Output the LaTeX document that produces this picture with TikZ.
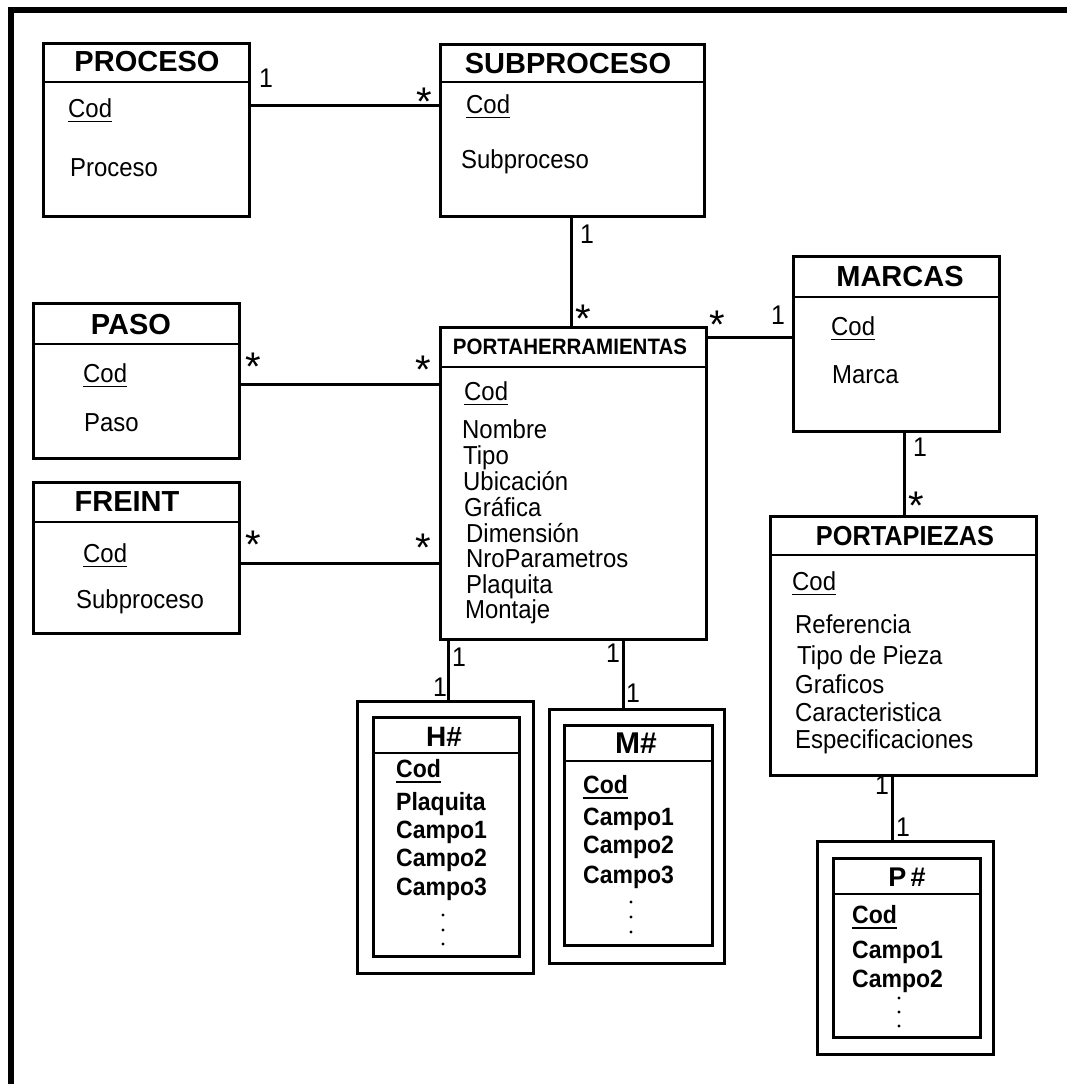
\documentclass[tikz,border=0pt]{standalone}
\usepackage{fontspec}
\setmainfont{Liberation Sans}
% slightly condensed face for attribute lists
\newfontfamily\narrowfont{Liberation Sans}[FakeStretch=0.92]
% size in px (1pt = 1px in this picture)
\newcommand{\pxfont}[1]{\fontsize{#1pt}{#1pt}\selectfont}
% underlined key attribute: #1 = rule thickness, #2 = text
\newcommand{\keyul}[2]{\leavevmode\vtop{\hbox{#2}\kern3.5pt\hrule height #1}}
\begin{document}
\begin{tikzpicture}[
  x=1pt, y=-1pt,
  entity/.style={draw, line width=3pt, anchor=north west, inner sep=0pt},
  weak/.style={draw, line width=3pt, anchor=north west, inner sep=0pt},
  sep/.style={line width=1.8pt},
  link/.style={line width=3pt},
  frame/.style={line width=6pt, line cap=butt, line join=miter},
  title/.style={font=\bfseries\pxfont{29}, inner sep=0pt, anchor=center},
  attr/.style={font=\narrowfont\pxfont{26}, inner sep=0pt, anchor=base west},
  wattr/.style={font=\narrowfont\bfseries\pxfont{25}, inner sep=0pt, anchor=base west},
  one/.style={font=\narrowfont\pxfont{27}, inner sep=0pt, anchor=center},
  many/.style={font=\pxfont{40}, inner sep=0pt, anchor=base, text depth=0pt},
]
\useasboundingbox (0,0) rectangle (1067,1084);

% page frame (top and left edges)
\draw[frame] (11,1095) -- (11,10) -- (1075,10);

% ---------- PROCESO ----------
\node[entity, minimum width=206pt, minimum height=173pt] (proc) at (42,42) {};
\draw[sep] ([yshift=-40pt]proc.north west) -- ([yshift=-40pt]proc.north east);
\node[title] (proc-t) at (147,62) {PROCESO};
\node[attr] (proc-k) at (68,117) {\keyul{1.3pt}{Cod}};
\node[attr] (proc-a1) at (70,176) {Proceso};

% ---------- SUBPROCESO ----------
\node[entity, minimum width=264pt, minimum height=172pt] (sub) at (439,43) {};
\draw[sep] ([yshift=-39pt]sub.north west) -- ([yshift=-39pt]sub.north east);
\node[title] (sub-t) at (568,64) {SUBPROCESO};
\node[attr] (sub-k) at (466,113) {\keyul{1.3pt}{Cod}};
\node[attr] (sub-a1) at (461,168) {Subproceso};

% ---------- PASO ----------
\node[entity, minimum width=206pt, minimum height=155pt] (paso) at (32,302) {};
\draw[sep] ([yshift=-42pt]paso.north west) -- ([yshift=-42pt]paso.north east);
\node[title] (paso-t) at (131,325) {PASO};
\node[attr] (paso-k) at (83,382) {\keyul{1.3pt}{Cod}};
\node[attr] (paso-a1) at (84,431) {Paso};

% ---------- FREINT ----------
\node[entity, minimum width=206pt, minimum height=151pt] (freint) at (32,481) {};
\draw[sep] ([yshift=-41pt]freint.north west) -- ([yshift=-41pt]freint.north east);
\node[title] (freint-t) at (127,502) {FREINT};
\node[attr] (freint-k) at (83,562) {\keyul{1.3pt}{Cod}};
\node[attr] (freint-a1) at (76,608) {Subproceso};

% ---------- PORTAHERRAMIENTAS ----------
\node[entity, minimum width=266pt, minimum height=312pt] (porta) at (439,326) {};
\draw[sep] ([yshift=-41pt]porta.north west) -- ([yshift=-41pt]porta.north east);
\node[title, font=\narrowfont\bfseries\pxfont{22.3}] (porta-t) at (570,347) {PORTAHERRAMIENTAS};
\node[attr] (porta-k) at (464,400) {\keyul{1.3pt}{Cod}};
\node[attr] (porta-a1) at (462,438) {Nombre};
\node[attr] (porta-a2) at (463,464) {Tipo};
\node[attr] (porta-a3) at (463,490) {Ubicación};
\node[attr] (porta-a4) at (464,516) {Gráfica};
\node[attr] (porta-a5) at (466,542) {Dimensión};
\node[attr] (porta-a6) at (466,567) {NroParametros};
\node[attr] (porta-a7) at (466,593) {Plaquita};
\node[attr] (porta-a8) at (465,618) {Montaje};

% ---------- MARCAS ----------
\node[entity, minimum width=206pt, minimum height=175pt] (marcas) at (792,255) {};
\draw[sep] ([yshift=-42pt]marcas.north west) -- ([yshift=-42pt]marcas.north east);
\node[title] (marcas-t) at (900,277) {MARCAS};
\node[attr] (marcas-k) at (831,335) {\keyul{1.3pt}{Cod}};
\node[attr] (marcas-a1) at (832,383) {Marca};

% ---------- PORTAPIEZAS ----------
\node[entity, minimum width=266pt, minimum height=259pt] (ppz) at (769,515) {};
\draw[sep] ([yshift=-40pt]ppz.north west) -- ([yshift=-40pt]ppz.north east);
\node[title, font=\narrowfont\bfseries\pxfont{27.5}] (ppz-t) at (905,536) {PORTAPIEZAS};
\node[attr] (ppz-k) at (792,590) {\keyul{1.3pt}{Cod}};
\node[attr] (ppz-a1) at (795,633) {Referencia};
\node[attr] (ppz-a2) at (797,664) {Tipo de Pieza};
\node[attr] (ppz-a3) at (795,693) {Graficos};
\node[attr] (ppz-a4) at (795,721) {Caracteristica};
\node[attr] (ppz-a5) at (795,748) {Especificaciones};

% ---------- H# ----------
\node[weak, minimum width=176pt, minimum height=272pt] (hout) at (356,700) {};
\node[weak, minimum width=146pt, minimum height=239pt] (hin) at (372,716) {};
\draw[sep] ([yshift=-37pt]hin.north west) -- ([yshift=-37pt]hin.north east);
\node[title, font=\bfseries\pxfont{28}] (h-t) at (444,737) {H\#};
\node[wattr] (h-k) at (396,777) {\keyul{2.4pt}{Cod}};
\node[wattr] (h-a1) at (396,810) {Plaquita};
\node[wattr] (h-a2) at (396,838) {Campo1};
\node[wattr] (h-a3) at (396,866) {Campo2};
\node[wattr] (h-a4) at (396,895) {Campo3};
\foreach \yy in {915,930,944} \fill (443,\yy) circle (1.7);

% ---------- M# ----------
\node[weak, minimum width=175pt, minimum height=254pt] (mout) at (548,708) {};
\node[weak, minimum width=148pt, minimum height=220pt] (mhin) at (563,724) {};
\draw[sep] ([yshift=-37pt]mhin.north west) -- ([yshift=-37pt]mhin.north east);
\node[title, font=\bfseries\pxfont{30}] (m-t) at (636,743) {M\#};
\node[wattr] (m-k) at (583,793) {\keyul{2.4pt}{Cod}};
\node[wattr] (m-a1) at (583,825) {Campo1};
\node[wattr] (m-a2) at (583,853) {Campo2};
\node[wattr] (m-a3) at (583,883) {Campo3};
\foreach \yy in {902,917,932} \fill (631,\yy) circle (1.7);

% ---------- P# ----------
\node[weak, minimum width=176pt, minimum height=213pt] (pout) at (816,840) {};
\node[weak, minimum width=147pt, minimum height=179pt] (pin) at (832,857) {};
\draw[sep] ([yshift=-37pt]pin.north west) -- ([yshift=-37pt]pin.north east);
\node[title, font=\bfseries\pxfont{27}] (p-t) at (907,877) {P\kern4pt\#};
\node[wattr] (p-k) at (852,923) {\keyul{2.4pt}{Cod}};
\node[wattr] (p-a1) at (852,958) {Campo1};
\node[wattr] (p-a2) at (852,987) {Campo2};
\foreach \yy in {998,1012,1026} \fill (899,\yy) circle (1.7);

% ---------- connectors ----------
\draw[link] (proc.east |- 0,105) -- (sub.west |- 0,105);
\draw[link] (571,0 |- sub.south) -- (571,0 |- porta.north);
\draw[link] (paso.east |- 0,384) -- (porta.west |- 0,384);
\draw[link] (freint.east |- 0,563) -- (porta.west |- 0,563);
\draw[link] (porta.east |- 0,337) -- (marcas.west |- 0,337);
\draw[link] (904,0 |- marcas.south) -- (904,0 |- ppz.north);
\draw[link] (448,0 |- porta.south) -- (448,0 |- hout.north);
\draw[link] (623,0 |- porta.south) -- (623,0 |- mout.north);
\draw[link] (892,0 |- ppz.south) -- (892,0 |- pout.north);

% ---------- multiplicities ----------
\node[one]  (m1)  at (266,78)  {1};
\node[many] (m2)  at (424,115) {*};
\node[one]  (m3)  at (587,234) {1};
\node[many] (m4)  at (583,332) {*};
\node[many] (m5)  at (253,380) {*};
\node[many] (m6)  at (423,383) {*};
\node[many] (m7)  at (253,558) {*};
\node[many] (m8)  at (423,561) {*};
\node[many] (m9)  at (717,338) {*};
\node[one]  (m10) at (778,315) {1};
\node[one]  (m11) at (920,447) {1};
\node[many] (m12) at (916,519) {*};
\node[one]  (m13) at (459,657) {1};
\node[one]  (m14) at (440,687) {1};
\node[one]  (m15) at (613,653) {1};
\node[one]  (m16) at (633,693) {1};
\node[one]  (m17) at (882,785) {1};
\node[one]  (m18) at (903,827) {1};
\end{tikzpicture}
\end{document}
